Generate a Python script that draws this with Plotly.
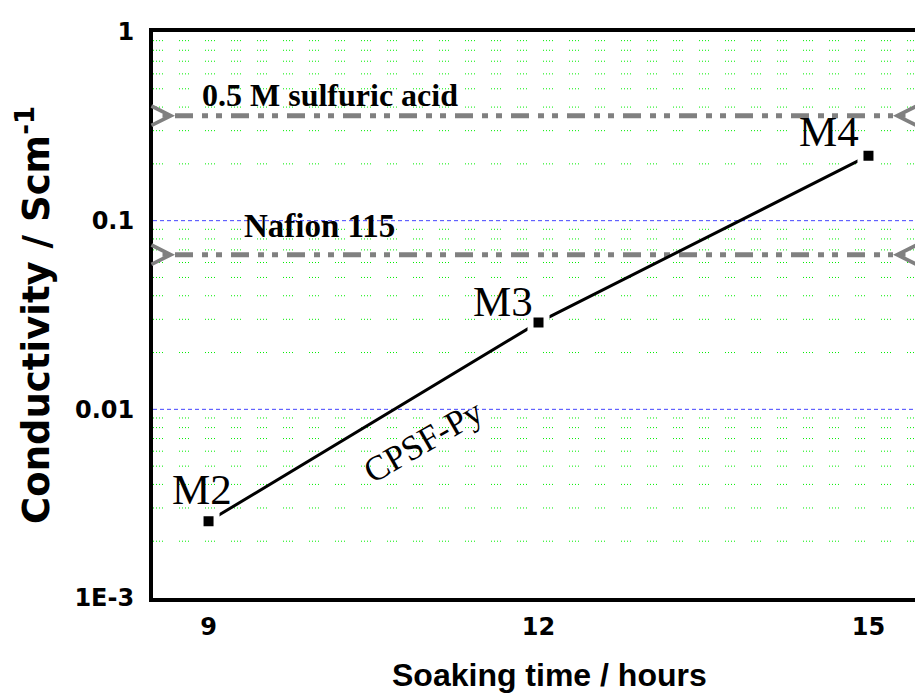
import math
import plotly.graph_objects as go

# data
soak_hours = [9, 12, 15]
conductivity = [0.00255, 0.0289, 0.221]
sample_labels = ["M2", "M3", "M4"]
label_shifts = [(-7, 32), (-36, 21), (-39, 24)]

ref_names = ["0.5 M sulfuric acid", "Nafion 115"]
ref_values = [0.36, 0.066]
ref_x_ends = [8.695, 15.223]

x_ticks = [9, 12, 15]
y_tickvals = [1, 0.1, 0.01, 0.001]
y_ticktext = ["1", "0.1", "0.01", "1E-3"]
major_grid = [0.1, 0.01]
minor_vals = [m * 10 ** e for e in (-3, -2, -1) for m in range(2, 10)]

fig = go.Figure()

# minor dotted green grid
for v in minor_vals:
    fig.add_shape(type="line", xref="paper", yref="y", x0=0, x1=1, y0=v, y1=v,
                  line=dict(color="#00ee00", width=1, dash="1px,2px,1px,2px,1px,2px,1px,16px"),
                  layer="below")
# major dashed blue grid
for v in major_grid:
    fig.add_shape(type="line", xref="paper", yref="y", x0=0, x1=1, y0=v, y1=v,
                  line=dict(color="#4444ff", width=1, dash="4px,3px"), layer="below")

# reference lines
for val in ref_values:
    fig.add_trace(go.Scatter(
        x=ref_x_ends, y=[val, val], mode="lines",
        line=dict(color="#808080", width=5, dash="18px,9px,6px,8px,6px,9px"),
        showlegend=False, hoverinfo="skip"))
    for xe, off in zip(ref_x_ends, (-14, 14)):
        fig.add_annotation(x=xe, y=math.log10(val), ax=off, ay=0, axref="pixel", ayref="pixel",
                           text="", showarrow=True, arrowhead=5, arrowsize=0.95,
                           arrowwidth=4, arrowcolor="#808080")

# data line
fig.add_trace(go.Scatter(
    x=soak_hours, y=conductivity, mode="lines+markers",
    line=dict(color="black", width=3),
    marker=dict(symbol="square", size=16, color="black", line=dict(color="white", width=6)),
    showlegend=False))

serif = "Liberation Serif, Times New Roman, serif"
for x, y, t, (dx, dy) in zip(soak_hours, conductivity, sample_labels, label_shifts):
    fig.add_annotation(x=x, y=math.log10(y), text=t, showarrow=False,
                       xanchor="center", yanchor="middle", xshift=dx, yshift=dy,
                       font=dict(family=serif, size=43, color="black"))

fig.add_annotation(x=10.105, y=math.log10(ref_values[0]), text=ref_names[0], showarrow=False,
                   xanchor="center", yanchor="middle", yshift=21,
                   font=dict(family=serif, size=32, color="black", weight="bold"))
fig.add_annotation(x=10.013, y=math.log10(0.1), text=ref_names[1], showarrow=False,
                   xanchor="center", yanchor="middle", yshift=-5,
                   font=dict(family=serif, size=33, color="black", weight="bold"))
fig.add_annotation(x=10.95, y=-2.17, text="CPSF-Py", showarrow=False, textangle=-30,
                   xanchor="center", yanchor="middle",
                   font=dict(family=serif, size=35, color="black"))

# x-axis title (offset right as in the reference)
fig.add_annotation(xref="paper", yref="paper", x=0.52, y=-0.136, text="Soaking time / hours",
                   showarrow=False, xanchor="center", yanchor="middle",
                   font=dict(family="Liberation Sans, Arial", size=32, color="black", weight="bold"))

tickfont = dict(family="DejaVu Sans", size=24, color="black", weight="bold")
fig.update_layout(
    width=915, height=700,
    margin=dict(l=153, r=0, t=32, b=102),
    paper_bgcolor="white", plot_bgcolor="white",
    xaxis=dict(range=[8.495, 15.423], tickvals=x_ticks, showgrid=False, zeroline=False,
               showline=True, linecolor="black", linewidth=4, mirror=True,
               ticks="", tickfont=tickfont, ticklabelstandoff=4),
    yaxis=dict(type="log", range=[-3, 0], tickvals=y_tickvals, ticktext=y_ticktext,
               showgrid=False, zeroline=False, showline=True, linecolor="black", linewidth=4,
               mirror=False, ticks="", tickfont=tickfont, ticklabelstandoff=10,
               title=dict(text="Conductivity / Scm<sup>-1</sup>", standoff=14,
                          font=dict(family="DejaVu Sans", size=37, color="black", weight="bold"))),
)

fig.write_html("out.html")
